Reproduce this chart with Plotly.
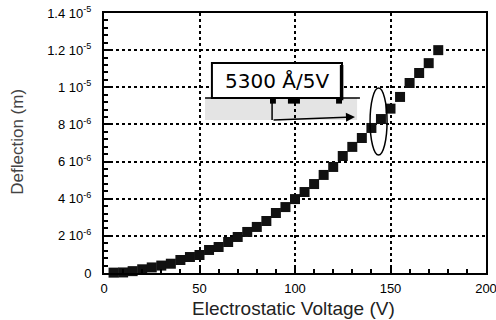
import numpy as np
import plotly.graph_objects as go

voltage = [5, 10, 15, 20, 25, 30, 35, 40, 45, 50, 55, 60, 65, 70, 75, 80, 85, 90, 95,
           100, 105, 110, 115, 120, 125, 130, 135, 140, 145, 150, 155, 160, 165, 170, 175]
deflection_um = [0.02, 0.03, 0.10, 0.20, 0.30, 0.40, 0.50, 0.70, 0.86, 0.97, 1.24, 1.40,
                 1.67, 1.94, 2.21, 2.48, 2.80, 3.23, 3.55, 3.98, 4.36, 4.79, 5.28, 5.71,
                 6.30, 6.79, 7.27, 7.81, 8.29, 8.85, 9.48, 10.23, 10.77, 11.30, 12.00]
deflection = (np.array(deflection_um) * 1e-6).tolist()

x_ticks = [0, 50, 100, 150, 200]
y_ticks = [0, 2e-6, 4e-6, 6e-6, 8e-6, 1e-5, 1.2e-5, 1.4e-5]
y_ticktext = ["0", "2 10<sup>-6</sup>", "4 10<sup>-6</sup>", "6 10<sup>-6</sup>",
              "8 10<sup>-6</sup>", "1 10<sup>-5</sup>", "1.2 10<sup>-5</sup>",
              "1.4 10<sup>-5</sup>"]
x_title = "Electrostatic Voltage (V)"
y_title = "Deflection (m)"
annotation_text = "5300 Å/5V"

FONT = "Liberation Sans"

fig = go.Figure()
fig.add_trace(go.Scatter(
    x=voltage, y=deflection, mode="markers",
    marker=dict(symbol="square", size=10, color="#111111", line=dict(width=0)),
    cliponaxis=False, showlegend=False,
))

# gray band and annotation box
fig.add_shape(type="rect", xref="x", yref="y", x0=52.9, x1=132.5, y0=8.24e-6, y1=9.42e-6,
              fillcolor="#e4e4e4", line=dict(width=0), layer="below")
fig.add_shape(type="line", xref="x", yref="y", x0=52.9, x1=134.0, y0=9.42e-6, y1=9.42e-6,
              line=dict(color="black", width=1.5))
fig.add_shape(type="rect", xref="x", yref="y", x0=56.5, x1=124.6, y0=9.42e-6, y1=11.31e-6,
              fillcolor="white", line=dict(color="black", width=2))
fig.add_shape(type="line", xref="x", yref="y", x0=124.4, x1=124.4, y0=9.3e-6, y1=11.2e-6,
              line=dict(color="black", width=3.5))
for x0, x1 in [(86.9, 90.0), (96.3, 102.6), (121.5, 124.6)]:
    fig.add_shape(type="rect", xref="x", yref="y", x0=x0, x1=x1, y0=9.12e-6, y1=9.42e-6,
                  fillcolor="black", line=dict(width=0))
fig.add_shape(type="line", xref="x", yref="y", x0=88.0, x1=88.0, y0=8.24e-6, y1=9.42e-6,
              line=dict(color="black", width=1.5))
fig.add_annotation(x=131.4, y=8.40e-6, ax=88.0, ay=8.24e-6, xref="x", yref="y",
                   axref="x", ayref="y", showarrow=True, arrowhead=2, arrowsize=1.2,
                   arrowwidth=1.5, arrowcolor="black", text="")
fig.add_annotation(x=90.6, y=10.36e-6, xref="x", yref="y", text=annotation_text,
                   showarrow=False, font=dict(family="DejaVu Sans", size=20, color="black"))
fig.add_shape(type="circle", xref="x", yref="y", x0=139.3, x1=148.2, y0=6.35e-6, y1=9.96e-6,
              line=dict(color="black", width=1.5))

# axis titles
fig.add_annotation(x=0.495, y=-0.137, xref="paper", yref="paper", text=x_title,
                   showarrow=False, xanchor="center", yanchor="middle",
                   font=dict(family=FONT, size=19, color="#222222"))
fig.add_annotation(x=-0.225, y=0.505, xref="paper", yref="paper", text=y_title,
                   showarrow=False, xanchor="center", yanchor="middle", textangle=-90,
                   font=dict(family=FONT, size=17, color="#444444"))

fig.update_xaxes(
    range=[0, 200], tickvals=x_ticks, ticktext=[str(v) for v in x_ticks],
    ticks="inside", ticklen=5, tickwidth=1.5, tickcolor="black",
    minor=dict(dtick=10, ticks="inside", ticklen=4, tickwidth=1.5, tickcolor="black",
               showgrid=False),
    showgrid=True, gridcolor="black", gridwidth=2, griddash="dot",
    showline=True, linecolor="black", linewidth=2, mirror=True, zeroline=False,
    automargin=False, ticklabelstandoff=2, ticklabeloverflow="allow",
    tickfont=dict(family=FONT, size=13, color="black"),
)
fig.update_yaxes(
    range=[0, 1.4e-5], tickvals=y_ticks, ticktext=y_ticktext,
    ticks="inside", ticklen=6, tickwidth=1.5, tickcolor="black",
    minor=dict(dtick=0.4e-6, ticks="inside", ticklen=4, tickwidth=1.5, tickcolor="black",
               showgrid=False),
    showgrid=True, gridcolor="black", gridwidth=2, griddash="dot",
    showline=True, linecolor="black", linewidth=2, mirror=True, zeroline=False,
    automargin=False, ticklabelstandoff=8, ticklabeloverflow="allow",
    tickfont=dict(family=FONT, size=13, color="black"),
)
fig.update_layout(
    width=496, height=320,
    margin=dict(l=104, r=10, t=13, b=47),
    paper_bgcolor="white", plot_bgcolor="white",
    showlegend=False,
)
fig.write_html("out.html")
